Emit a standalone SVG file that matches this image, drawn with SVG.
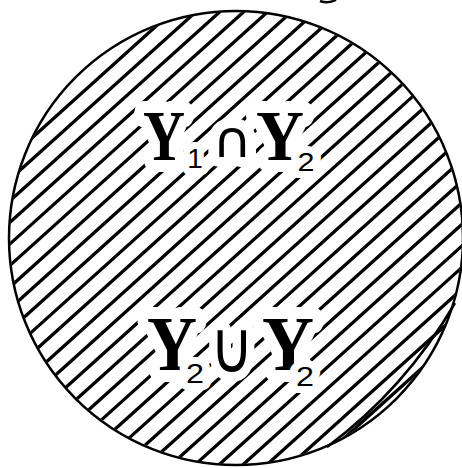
<svg xmlns="http://www.w3.org/2000/svg" width="462" height="468" viewBox="0 0 462 468">
  <defs>
    <style>
      .edge { fill: none; stroke: #000; stroke-width: 2.5; }
      .hatch { fill: none; stroke: #000; stroke-width: 3.3; }
      .y { font-family: "Liberation Serif", "Times New Roman", serif; font-weight: bold; fill: #000; stroke: #fff; stroke-width: 24; stroke-linejoin: round; paint-order: stroke; text-anchor: middle; }
      .sub { font-family: "Liberation Sans", Arial, sans-serif; fill: #000; stroke: #fff; stroke-width: 14; stroke-linejoin: round; paint-order: stroke; text-anchor: middle; }
      .op { font-family: "DejaVu Sans", sans-serif; fill: #000; stroke: #fff; stroke-width: 20; stroke-linejoin: round; paint-order: stroke; text-anchor: middle; }
    </style>
    <clipPath id="disc">
      <circle cx="236" cy="238" r="226"/>
    </clipPath>
  </defs>
  <rect width="462" height="468" fill="#fff"/>
  <g id="region">
    <path class="hatch" clip-path="url(#disc)" d="M-83.42,241.87 l356.6,-321.2
      m-345.894,333.09 l356.6,-321.2 m-345.894,333.09 l356.6,-321.2 m-345.894,333.09 l356.6,-321.2
      m-345.894,333.09 l356.6,-321.2 m-345.894,333.09 l356.6,-321.2 m-345.894,333.09 l356.6,-321.2
      m-345.894,333.09 l356.6,-321.2 m-345.894,333.09 l356.6,-321.2 m-345.894,333.09 l356.6,-321.2
      m-345.894,333.09 l356.6,-321.2 m-345.894,333.09 l356.6,-321.2 m-345.894,333.09 l356.6,-321.2
      m-345.894,333.09 l356.6,-321.2 m-345.894,333.09 l356.6,-321.2 m-345.894,333.09 l356.6,-321.2
      m-345.894,333.09 l356.6,-321.2 m-345.894,333.09 l356.6,-321.2 m-345.894,333.09 l356.6,-321.2
      m-345.894,333.09 l356.6,-321.2 m-345.894,333.09 l356.6,-321.2 m-345.894,333.09 l356.6,-321.2
      m-345.894,333.09 l356.6,-321.2 m-345.894,333.09 l356.6,-321.2 m-345.894,333.09 l356.6,-321.2
      m-345.894,333.09 l356.6,-321.2 m-345.894,333.09 l356.6,-321.2 m-345.894,333.09 l356.6,-321.2"/>
    <circle class="edge" cx="236" cy="238" r="227"/>
    <path class="edge" d="M455,303 Q405,389 327,447"/>
    <path class="edge" d="M320,1 Q328,4 336,0" stroke-width="3"/>
  </g>
  <g id="label-intersection">
    <text class="y" x="164" y="160" font-size="71" textLength="42" lengthAdjust="spacingAndGlyphs">Y</text>
    <text class="sub" x="195" y="168" font-size="28">1</text>
    <text class="op" x="232" y="157" font-size="50" textLength="40" lengthAdjust="spacingAndGlyphs">∩</text>
    <text class="y" x="280" y="160" font-size="71" textLength="48" lengthAdjust="spacingAndGlyphs">Y</text>
    <text class="sub" x="306" y="171" font-size="26" textLength="17" lengthAdjust="spacingAndGlyphs">2</text>
  </g>
  <g id="label-union">
    <text class="y" x="172" y="370" font-size="78" textLength="50" lengthAdjust="spacingAndGlyphs">Y</text>
    <text class="sub" x="195" y="383" font-size="28" textLength="18" lengthAdjust="spacingAndGlyphs">2</text>
    <text class="op" x="232" y="372" font-size="72" textLength="44" lengthAdjust="spacingAndGlyphs">∪</text>
    <text class="y" x="288" y="370" font-size="78" textLength="52" lengthAdjust="spacingAndGlyphs">Y</text>
    <text class="sub" x="305" y="386" font-size="28" textLength="18" lengthAdjust="spacingAndGlyphs">2</text>
  </g>
</svg>
